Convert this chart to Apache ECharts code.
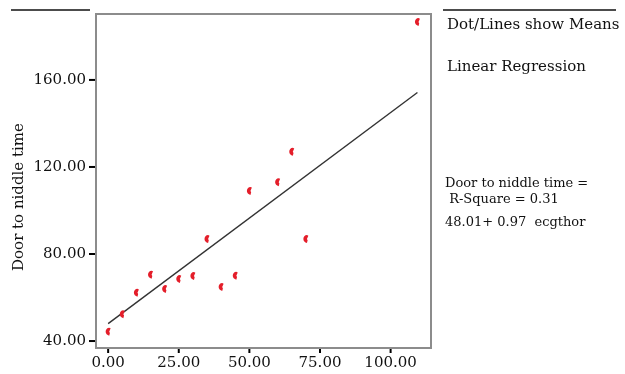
<!DOCTYPE html>
<html><head><meta charset="utf-8">
<script src="https://cdn.jsdelivr.net/npm/echarts@6/dist/echarts.min.js"></script>
<style>html,body{margin:0;padding:0;background:#fff}#c{width:625px;height:374px}</style>
</head><body><div id="c"></div>
<script>
var ecgthor = [0, 5, 10, 15, 20, 25, 30, 35, 40, 45, 50, 60, 65, 70, 109.5];
var doorToNeedle = [44.3, 52.3, 62.2, 70.5, 63.9, 68.5, 69.9, 86.9, 64.8, 70.0, 109.0, 113.0, 127.0, 86.9, 186.6];
var regIntercept = [48.01];
var regSlope = [0.97];
var xTicks = [0, 25, 50, 75, 100];
var yTicks = [40, 80, 120, 160];
var sideTexts = ["Dot/Lines show Means", "Linear Regression", "Door to niddle time =", " R-Square = 0.31", "48.01+ 0.97  ecgthor"];
var yTitle = "Door to niddle time";

var X_MIN = -4.3, X_MAX = 114.3, Y_MIN = 36.8, Y_MAX = 190.3;
var pts = ecgthor.map(function (x, i) { return [x, doorToNeedle[i]]; });
var xMin = Math.min.apply(null, ecgthor), xMax = Math.max.apply(null, ecgthor);
var reg = [xMin, xMax].map(function (x) { return [x, regIntercept[0] + regSlope[0] * x]; });
var tickData = xTicks.map(function (v) { return [v, Y_MIN, 0]; })
  .concat(yTicks.map(function (v) { return [X_MIN, v, 1]; }));

var FONT = 'DejaVu Serif';
var chart = echarts.init(document.getElementById('c'), null, {renderer: 'canvas'});
var marker = 'path://M5,0 C2,0 0,3 0,6 C0,9 2,11 5,12 L6,8 L5,6 L7,1 Z';
chart.setOption({
  animation: false,
  grid: {left: 96, right: 194, top: 14, bottom: 26, show: true, borderColor: '#8c8c8c', borderWidth: 2},
  xAxis: {
    type: 'value', min: X_MIN, max: X_MAX,
    splitLine: {show: false}, axisLine: {show: true, onZero: false, lineStyle: {color: '#8c8c8c', width: 2}},
    axisTick: {show: false},
    axisLabel: {customValues: xTicks, margin: 8, color: '#111', fontFamily: FONT, fontSize: 15,
      formatter: function (v) { return v.toFixed(2); }}
  },
  yAxis: {
    type: 'value', min: Y_MIN, max: Y_MAX,
    splitLine: {show: false}, axisLine: {show: true, onZero: false, lineStyle: {color: '#8c8c8c', width: 2}},
    axisTick: {show: false},
    axisLabel: {customValues: yTicks, margin: 10, color: '#111', fontFamily: FONT, fontSize: 15,
      formatter: function (v) { return v.toFixed(2); }}
  },
  series: [
    {type: 'line', data: reg, symbol: 'none', lineStyle: {color: '#333', width: 1.4}, z: 2},
    {type: 'scatter', data: pts, symbol: marker, symbolSize: [5, 8], itemStyle: {color: '#e41e2a', opacity: 1}, z: 3},
    {type: 'custom', data: tickData, clip: false, silent: true, z: 5,
      renderItem: function (params, api) {
        var p = api.coord([api.value(0), api.value(1)]);
        var isY = api.value(2) === 1;
        var s = isY ? {x1: p[0] - 7, y1: p[1], x2: p[0] - 1, y2: p[1]}
                    : {x1: p[0], y1: p[1] + 1, x2: p[0], y2: p[1] + 5};
        return {type: 'line', shape: s, style: {stroke: '#000', lineWidth: 2}};
      }}
  ],
  graphic: [
    {type: 'line', shape: {x1: 11, y1: 10, x2: 90, y2: 10}, style: {stroke: '#111', lineWidth: 1.5}},
    {type: 'line', shape: {x1: 443, y1: 10, x2: 616, y2: 10}, style: {stroke: '#111', lineWidth: 1.5}},
    {type: 'text', x: 19, y: 197, rotation: Math.PI / 2,
      style: {text: yTitle, fontFamily: FONT, fontSize: 15, fill: '#111', align: 'center', verticalAlign: 'middle'}},
    {type: 'text', left: 447, top: 18, style: {text: sideTexts[0], fontFamily: FONT, fontSize: 15, fill: '#111'}},
    {type: 'text', left: 447, top: 60, style: {text: sideTexts[1], fontFamily: FONT, fontSize: 15, fill: '#111'}},
    {type: 'text', left: 445, top: 177, style: {text: sideTexts[2], fontFamily: FONT, fontSize: 13, fill: '#111'}},
    {type: 'text', left: 445, top: 193, style: {text: sideTexts[3], fontFamily: FONT, fontSize: 13, fill: '#111'}},
    {type: 'text', left: 445, top: 216, style: {text: sideTexts[4], fontFamily: FONT, fontSize: 13, fill: '#111'}}
  ]
});
</script></body></html>
